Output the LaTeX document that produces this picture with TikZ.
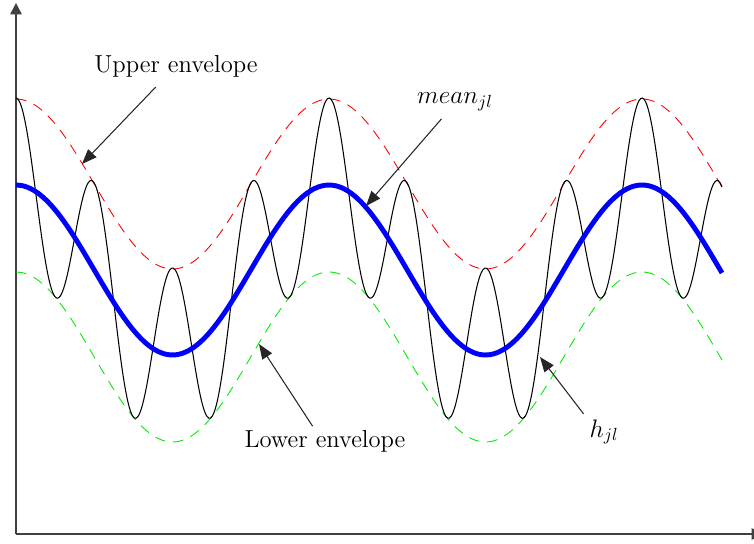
\documentclass[tikz,border=0pt]{standalone}
\usepackage{amsmath}
\usepackage{tikz}
\usetikzlibrary{arrows.meta, positioning, calc}
\usepackage{xcolor}
\definecolor{meanblue}{RGB}{0,0,255}
\definecolor{envred}{RGB}{255,0,0}
\definecolor{envgreen}{RGB}{0,235,0}

\tikzset{
    axisline/.style={black!75, line width=1pt, -{Triangle[length=6.5pt, width=6.5pt]}},
    envline/.style={line width=0.5pt, dash pattern=on 6pt off 4.5pt},
    pointer/.style={black!85, line width=0.6pt, -{Triangle[length=8.5pt, width=6.5pt]}},
    lbl/.style={font=\fontsize{14}{16}\selectfont, inner sep=2pt}
}

\begin{document}
\begin{tikzpicture}[x=0.02cm, y=0.02cm]
        \useasboundingbox (-16,-10) rectangle (738,534);

        % Axes
        \draw[axisline] (0,0) -- (0,531);
        \draw[axisline] (0,0) -- (747,0);

        % --- Enveloppes ---
        \draw[envline, envred] plot[domain=0:812, samples=120, smooth]
            ({\x*0.86944}, {350+85*cos(\x)});
        \draw[envline, envgreen] plot[domain=0:812, samples=120, smooth]
            ({\x*0.86944}, {177+85*cos(\x)});

        % --- Signal ---
        \draw[black, line width=0.6pt] plot[domain=0:812, samples=400, smooth]
            ({\x*0.86944}, {264+85*cos(\x)+87*cos(4*\x)});

        % --- Moyenne ---
        \draw[meanblue, line width=2.8pt] plot[domain=0:812, samples=120, smooth]
            ({\x*0.86944}, {264+85*cos(\x)});

        % --- Etiquettes ---
        \node[lbl] (upperlbl) at (160,468) {Upper envelope};
        \node[lbl] (meanlbl) at (439,432) {$mean_{jl}$};
        \node[lbl] (lowerlbl) at (309,93) {Lower envelope};
        \node[lbl] (hlbl) at (588,102) {$h_{jl}$};

        \coordinate (uppertip) at (66,370);
        \coordinate (meantip) at (350,328);
        \coordinate (lowertip) at (243,190);
        \coordinate (htip) at (524,177);

        \draw[pointer, shorten <=5pt] (upperlbl.226) -- (uppertip);
        \draw[pointer, shorten <=3pt] (meanlbl.232) -- (meantip);
        \draw[pointer] (lowerlbl.130) -- (lowertip);
        \draw[pointer, shorten <=2pt] (hlbl.140) -- (htip);
    \end{tikzpicture}
\end{document}
